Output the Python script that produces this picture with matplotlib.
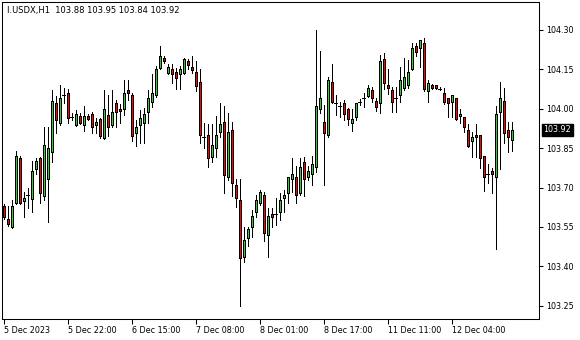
import matplotlib
matplotlib.use("Agg")
import matplotlib.pyplot as plt
import numpy as np

plt.rcParams["font.family"] = ["DejaVu Sans"]

# Hourly OHLC values (I.USDX, H1)
OPEN = [103.630, 103.580, 103.550, 103.641, 103.813, 103.650, 103.672, 103.656, 103.771, 103.813,
        103.669, 103.733, 103.837, 104.022, 103.947, 104.052, 104.060, 103.969, 103.939, 103.972,
        103.939, 103.972, 103.980, 103.939, 103.962, 103.890, 103.976, 103.939, 104.022, 103.999,
        103.999, 104.071, 104.052, 103.909, 103.939, 103.947, 103.989, 104.026, 104.051, 104.156,
        104.191, 104.137, 104.150, 104.140, 104.131, 104.137, 104.182, 104.159, 104.140, 104.102,
        103.894, 103.899, 103.818, 103.851, 103.910, 103.950, 103.739, 103.919, 103.710, 103.653,
        103.437, 103.508, 103.549, 103.608, 103.640, 103.672, 103.519, 103.599, 103.598, 103.608,
        103.659, 103.680, 103.731, 103.739, 103.680, 103.798, 103.739, 103.752, 103.779, 103.998,
        103.951, 103.900, 104.101, 104.023, 104.011, 104.021, 103.998, 103.947, 103.970, 104.027,
        104.040, 104.050, 104.071, 104.030, 104.021, 104.188, 104.090, 104.071, 104.040, 104.052,
        104.078, 104.090, 104.150, 104.239, 104.230, 104.251, 104.069, 104.090, 104.090, 104.074,
        104.059, 104.040, 104.027, 104.040, 103.972, 103.970, 103.919, 103.878, 103.900, 103.900,
        103.820, 103.752, 103.763, 103.739, 103.989, 104.030, 103.919, 103.880]
HIGH = [103.637, 103.630, 103.653, 103.839, 103.820, 103.684, 103.698, 103.802, 103.814, 103.816,
        103.932, 103.932, 104.071, 104.049, 104.090, 104.079, 104.075, 103.984, 103.995, 103.984,
        104.011, 103.980, 103.988, 103.965, 103.965, 104.071, 104.052, 104.071, 104.033, 104.018,
        104.109, 104.109, 104.060, 103.957, 103.995, 104.003, 104.071, 104.131, 104.163, 104.239,
        104.201, 104.169, 104.169, 104.156, 104.163, 104.193, 104.188, 104.201, 104.182, 104.151,
        103.944, 103.942, 103.942, 103.972, 104.022, 104.011, 103.985, 103.951, 103.731, 103.731,
        103.551, 103.551, 103.615, 103.672, 103.691, 103.684, 103.622, 103.622, 103.660, 103.680,
        103.691, 103.739, 103.811, 103.782, 103.811, 103.818, 103.782, 103.820, 104.300, 104.220,
        104.014, 104.120, 104.170, 104.052, 104.027, 104.033, 104.002, 103.998, 104.022, 104.036,
        104.059, 104.090, 104.084, 104.040, 104.205, 104.211, 104.150, 104.084, 104.084, 104.158,
        104.192, 104.186, 104.249, 104.251, 104.262, 104.268, 104.109, 104.094, 104.090, 104.082,
        104.078, 104.040, 104.052, 104.040, 103.998, 103.970, 103.942, 103.913, 103.942, 103.900,
        103.820, 103.790, 103.773, 104.011, 104.103, 104.078, 103.951, 103.950]
LOW = [103.580, 103.554, 103.546, 103.637, 103.637, 103.589, 103.622, 103.608, 103.752, 103.641,
       103.653, 103.570, 103.798, 103.909, 103.938, 104.022, 103.947, 103.957, 103.934, 103.942,
       103.916, 103.957, 103.909, 103.909, 103.890, 103.885, 103.897, 103.929, 103.929, 103.947,
       103.976, 104.033, 103.878, 103.859, 103.869, 103.869, 103.947, 104.008, 104.045, 104.151,
       104.174, 104.132, 104.099, 104.076, 104.076, 104.132, 104.150, 104.135, 104.068, 103.869,
       103.851, 103.779, 103.798, 103.818, 103.891, 103.680, 103.729, 103.668, 103.627, 103.249,
       103.418, 103.479, 103.511, 103.589, 103.634, 103.498, 103.437, 103.549, 103.558, 103.577,
       103.608, 103.642, 103.684, 103.640, 103.672, 103.668, 103.729, 103.710, 103.760, 103.985,
       103.710, 103.892, 104.022, 103.976, 103.970, 103.957, 103.938, 103.916, 103.957, 104.014,
       104.008, 104.045, 104.027, 103.993, 103.985, 104.074, 104.056, 103.989, 103.989, 104.027,
       104.071, 104.078, 104.148, 104.201, 104.160, 104.069, 104.027, 104.075, 104.075, 104.071,
       104.018, 103.970, 103.970, 103.957, 103.945, 103.913, 103.856, 103.815, 103.815, 103.773,
       103.688, 103.716, 103.680, 103.467, 103.770, 103.871, 103.837, 103.840]
CLOSE = [103.589, 103.561, 103.630, 103.820, 103.641, 103.660, 103.671, 103.763, 103.801, 103.680,
         103.862, 103.851, 104.030, 103.957, 104.041, 104.051, 103.965, 103.968, 103.980, 103.947,
         103.972, 103.962, 103.929, 103.950, 103.897, 103.999, 103.929, 103.988, 103.989, 103.991,
         104.060, 104.060, 103.897, 103.932, 103.965, 103.980, 104.041, 104.059, 104.150, 104.201,
         104.181, 104.159, 104.131, 104.118, 104.150, 104.188, 104.167, 104.148, 104.087, 103.898,
         103.893, 103.811, 103.862, 103.899, 103.941, 103.748, 103.910, 103.719, 103.659, 103.431,
         103.500, 103.542, 103.592, 103.653, 103.684, 103.528, 103.592, 103.589, 103.599, 103.653,
         103.672, 103.739, 103.752, 103.671, 103.779, 103.731, 103.763, 103.790, 104.011, 104.040,
         103.909, 104.109, 104.025, 104.022, 104.010, 103.980, 103.960, 103.960, 104.021, 104.026,
         104.041, 104.078, 104.040, 104.008, 104.182, 104.099, 104.078, 104.027, 104.041, 104.109,
         104.122, 104.141, 104.230, 104.217, 104.262, 104.074, 104.099, 104.078, 104.078, 104.074,
         104.027, 104.021, 104.052, 103.960, 103.980, 103.929, 103.858, 103.891, 103.891, 103.811,
         103.739, 103.751, 103.750, 103.980, 104.040, 103.909, 103.891, 103.920]

Y_TICKS = [103.25, 103.40, 103.55, 103.70, 103.85, 104.00, 104.15, 104.30]
X_TICKS = [0, 16, 32, 48, 64, 80, 96, 112]
X_LABELS = ["5 Dec 2023", "5 Dec 22:00", "6 Dec 15:00", "7 Dec 08:00",
            "8 Dec 01:00", "8 Dec 17:00", "11 Dec 11:00", "12 Dec 04:00"]
TITLE = "I.USDX,H1  103.88 103.95 103.84 103.92"
LAST_PRICE = 103.92

BULL = "#32cd32"
BEAR = "#ff0000"
FS = 5.8


def draw_candles(ax):
    o = np.array(OPEN)
    h = np.array(HIGH)
    l = np.array(LOW)
    c = np.array(CLOSE)
    x = np.arange(len(o))

    ax.vlines(x, l, h, color="black", linewidth=0.72, zorder=2,
              antialiased=False)

    lo = np.minimum(o, c)
    hi = np.maximum(o, c)
    body = hi - lo
    up = c >= o
    big = body > 0.002

    colors = np.where(up, BULL, BEAR)
    ax.bar(x[big], body[big], bottom=lo[big], width=0.6, color=colors[big],
           edgecolor="black", linewidth=0.72, zorder=3, antialiased=False)
    # doji / tiny bodies are just a short horizontal line
    ax.hlines(c[~big], x[~big] - 0.4, x[~big] + 0.4, color="black",
              linewidth=0.72, zorder=3, antialiased=False)


def main():
    fig = plt.figure(figsize=(5.8, 3.4), dpi=100)
    ax = fig.add_axes([2 / 580, 21 / 340, 537 / 580, 317 / 340])

    draw_candles(ax)

    ax.set_xlim(-0.45, 133.8)
    ax.set_ylim(103.1996, 104.406)

    ax.set_xticks(X_TICKS)
    ax.set_xticklabels(X_LABELS, ha="left", fontsize=FS)
    ax.yaxis.tick_right()
    ax.set_yticks(Y_TICKS)
    ax.set_yticklabels([f"{v:.2f}" for v in Y_TICKS], fontsize=FS)
    ax.tick_params(axis="x", direction="out", length=3.5, width=0.75, pad=1.5)
    ax.tick_params(axis="y", direction="out", length=3, width=0.75, pad=2.5)

    for s in ax.spines.values():
        s.set_linewidth(0.75)
        s.set_color("black")

    ax.annotate(f"{LAST_PRICE:.2f}", xy=(1, LAST_PRICE),
                xycoords=("axes fraction", "data"),
                xytext=(3.2, 0), textcoords="offset points",
                ha="left", va="center", fontsize=FS, color="white",
                bbox=dict(boxstyle="square,pad=0.2", fc="black", ec="black"))

    fig.text(7 / 580, 1 - 10.5 / 340, TITLE, ha="left", va="center",
             fontsize=6.0, color="black")

    fig.savefig("out.png", dpi=100)


if __name__ == "__main__":
    main()
